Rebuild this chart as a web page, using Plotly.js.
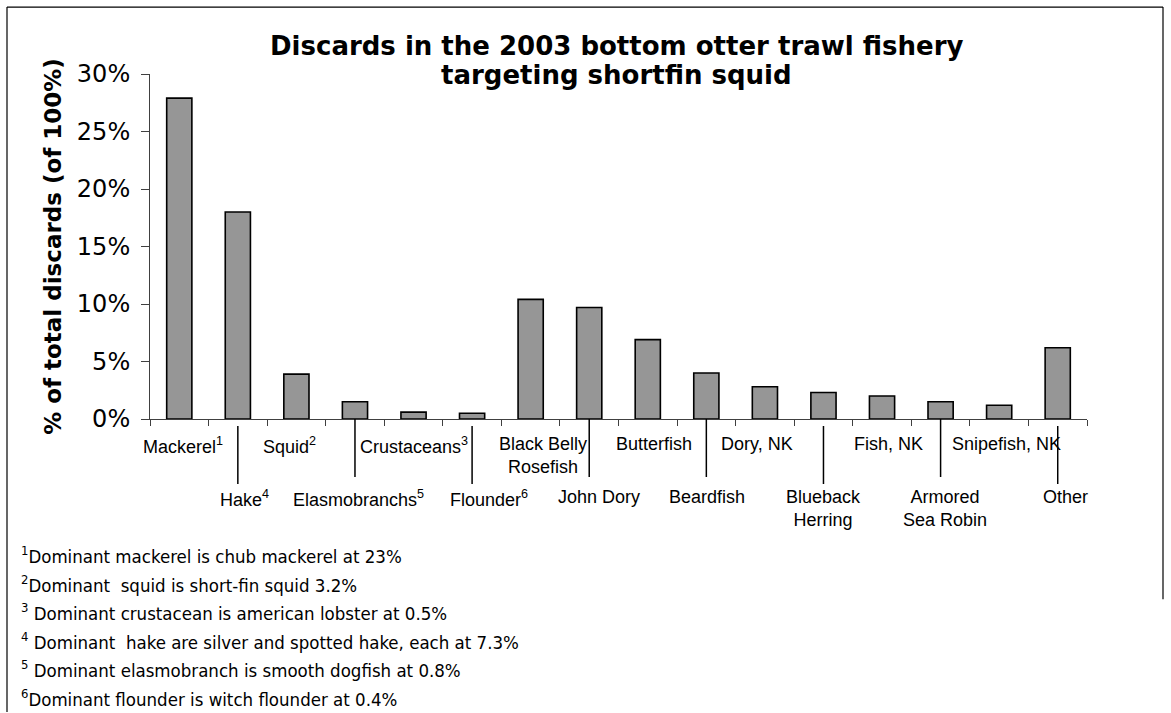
<!DOCTYPE html>
<html>
<head>
<meta charset="utf-8">
<script src="https://cdn.plot.ly/plotly-3.0.1.min.js"></script>
<style>html,body{margin:0;padding:0;background:#fff;}#chart{width:1171px;height:713px;}</style>
</head>
<body>
<div id="chart"></div>
<script>
// ---- data ----
const categories = ['Mackerel','Hake','Squid','Elasmobranchs','Crustaceans','Flounder','Black Belly Rosefish','John Dory','Butterfish','Beardfish','Dory, NK','Blueback Herring','Fish, NK','Armored Sea Robin','Snipefish, NK','Other'];
const tickLabels = ['Mackerel','Hake','Squid','Elasmobranchs','Crustaceans','Flounder','Black Belly<br>Rosefish','John Dory','Butterfish','Beardfish','Dory, NK','Blueback<br>Herring','Fish, NK','Armored<br>Sea Robin','Snipefish, NK','Other'];
const noteMarks = ['1','4','2','5','3','6','','','','','','','','','',''];
const discardPct = [27.9, 18.0, 3.9, 1.5, 0.6, 0.5, 10.4, 9.7, 6.9, 4.0, 2.8, 2.3, 2.0, 1.5, 1.2, 6.2];
const footnoteMarks = ['1','2','3','4','5','6'];
const footnotes = [
  'Dominant mackerel is chub mackerel at 23%',
  'Dominant&nbsp; squid is short-fin squid 3.2%',
  ' Dominant crustacean is american lobster at 0.5%',
  ' Dominant&nbsp; hake are silver and spotted hake, each at 7.3%',
  ' Dominant elasmobranch is smooth dogfish at 0.8%',
  'Dominant flounder is witch flounder at 0.4%'
];
const titleLines = ['Discards in the 2003 bottom otter trawl fishery', 'targeting shortfin squid'];
const yTitle = '% of total discards (of 100%)';

// ---- layout helpers (styling only) ----
const W = 1171, H = 713;
const M = {l:150, r:84, t:74, b:293.5};
const plotH = H - M.t - M.b, plotW = W - M.l - M.r;
const px2py = p => (H - M.b - p) / plotH;   // pixel y -> paper y
const px2px = p => (p - M.l) / plotW;        // pixel x -> paper x
const labelNudge = [4,7,-7,4,0,17,12,10,6,1,-8,0,6,4,7,8];
const leaderTop = [7,0,7,0,0,7,0,7]; // pixel offsets below axis for leader lines
const catFont = {family:'Liberation Sans Narrow, Liberation Sans, Arial, sans-serif', size:18, color:'#000'};
const noteFont = {family:'DejaVu Sans Condensed, DejaVu Sans, Verdana, sans-serif', size:18.5, color:'#000'};
const titleFont = {family:'DejaVu Sans, Verdana, sans-serif', size:26, color:'#000', weight:'bold'};

const annotations = [];
const shapes = [];
let li = 0;
categories.forEach((c, i) => {
  const lower = i % 2 === 1;
  const txt = tickLabels[i] + (noteMarks[i] ? '<sup>' + noteMarks[i] + '</sup>' : '');
  annotations.push({
    xref:'x', yref:'paper', x:c, y:0, xanchor:'center', yanchor:'top',
    xshift: labelNudge[i], yshift: lower ? -66 : -13,
    text: txt, showarrow:false, font:catFont, align:'center'
  });
  if (lower) {
    const top = leaderTop[li++];
    shapes.push({type:'line', xref:'x', yref:'paper', ysizemode:'pixel', yanchor:0,
      x0:c, x1:c, y0:-top, y1:-(top + 58), line:{color:'#000', width:1.5}});
  }
});
footnotes.forEach((t, i) => {
  annotations.push({
    xref:'paper', yref:'paper', x:0, y:0, xanchor:'left', yanchor:'middle',
    xshift: -131, yshift: -(136 + i*28.5),
    text: '<sup>' + footnoteMarks[i] + '</sup>' + t, showarrow:false, font:noteFont, align:'left'
  });
});
// two-line chart title (tight line spacing as in the reference)
titleLines.forEach((t, i) => {
  annotations.push({
    xref:'paper', yref:'paper', x:0.5, y:px2py(45.5 + i*29.5), xanchor:'center', yanchor:'middle', xshift:-2,
    text:t, showarrow:false, font:titleFont
  });
});
// outer frame
shapes.push({type:'line', xref:'paper', yref:'paper', x0:px2px(7), x1:px2px(7), y0:px2py(7), y1:px2py(713), line:{color:'#000', width:1.2}});
shapes.push({type:'line', xref:'paper', yref:'paper', x0:px2px(7), x1:px2px(1163), y0:px2py(7), y1:px2py(7), line:{color:'#000', width:1.2}});
shapes.push({type:'line', xref:'paper', yref:'paper', x0:px2px(1163), x1:px2px(1163), y0:px2py(7), y1:px2py(600), line:{color:'#000', width:1.2}});

const trace = {
  type:'bar', x:categories, y:discardPct,
  marker:{color:'#969696', line:{color:'#000', width:1.6}},
  hoverinfo:'x+y'
};

const layout = {
  width:W, height:H,
  margin:M,
  paper_bgcolor:'#fff', plot_bgcolor:'#fff',
  showlegend:false,
  bargap:0.57,
  xaxis:{type:'category', range:[-0.5, categories.length - 0.5], autorange:false,
    showline:true, linecolor:'#404040', linewidth:1, ticks:'outside', tickson:'boundaries',
    ticklen:6, tickcolor:'#404040', showticklabels:false, showgrid:false, zeroline:false, fixedrange:true},
  yaxis:{range:[0,30], autorange:false, dtick:5, tick0:0, ticksuffix:'%', showline:true, linecolor:'#404040', linewidth:1,
    ticks:'outside', ticklen:8, tickcolor:'#404040', ticklabelstandoff:6, showgrid:false, zeroline:false,
    tickfont:{family:'DejaVu Sans, Verdana, sans-serif', size:24, color:'#000'},
    title:{text:yTitle, standoff:8, font:{family:'DejaVu Sans, Verdana, sans-serif', size:23, color:'#000', weight:'bold'}}},
  annotations, shapes
};
Plotly.newPlot('chart', [trace], layout, {displayModeBar:false, staticPlot:true});
</script>
</body>
</html>
